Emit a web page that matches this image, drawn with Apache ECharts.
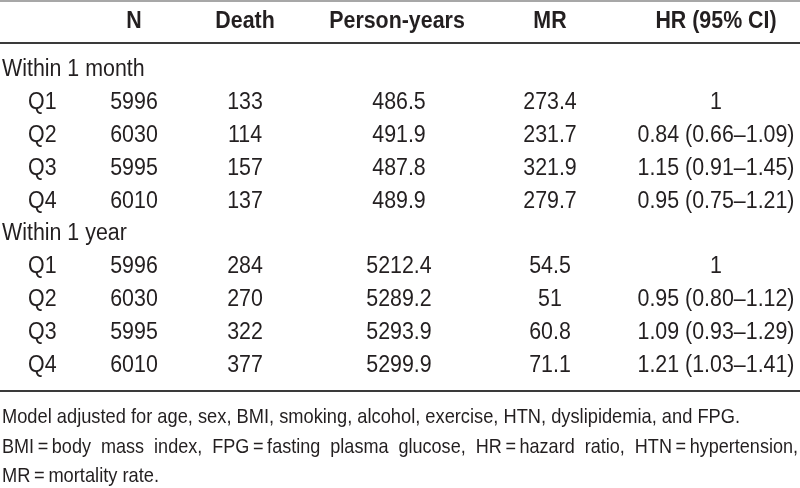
<!DOCTYPE html>
<html><head><meta charset="utf-8">
<script src="https://cdn.jsdelivr.net/npm/echarts@6/dist/echarts.min.js"></script>
<style>html,body{margin:0;padding:0;background:#fff}#c{width:800px;height:488px}</style>
</head><body><div id="c"></div>
<script>
// ---- data ----
const columns = ['N', 'Death', 'Person-years', 'MR', 'HR (95% CI)'];
const groups = ['Within 1 month', 'Within 1 year'];
const quartiles = ['Q1', 'Q2', 'Q3', 'Q4'];
const nMonth = ['5996', '6030', '5995', '6010'];
const deathMonth = ['133', '114', '157', '137'];
const pyMonth = ['486.5', '491.9', '487.8', '489.9'];
const mrMonth = ['273.4', '231.7', '321.9', '279.7'];
const hrMonth = ['1', '0.84 (0.66–1.09)', '1.15 (0.91–1.45)', '0.95 (0.75–1.21)'];
const nYear = ['5996', '6030', '5995', '6010'];
const deathYear = ['284', '270', '322', '377'];
const pyYear = ['5212.4', '5289.2', '5293.9', '5299.9'];
const mrYear = ['54.5', '51', '60.8', '71.1'];
const hrYear = ['1', '0.95 (0.80–1.12)', '1.09 (0.93–1.29)', '1.21 (1.03–1.41)'];
const footnotes = [
  'Model adjusted for age, sex, BMI, smoking, alcohol, exercise, HTN, dyslipidemia, and FPG.',
  'BMI\u2009=\u2009body  mass  index,  FPG\u2009=\u2009fasting  plasma  glucose,  HR\u2009=\u2009hazard  ratio,  HTN\u2009=\u2009hypertension,',
  'MR\u2009=\u2009mortality rate.'
];

// ---- layout ----
const FONT_FAMILY = '"Liberation Sans", Arial, sans-serif';
const FS = 23;
const SCALE_X = 0.93;
const FOOT_FS = 21;
const footTargetW = [738, 796, null];
const ROW = 32.8;           // px per row unit
const colX = [134, 245, 399, 550, 716];
const headerX = [134, 245, 397, 550, 716];
const groupX = 2, qX = 28, footX = 2;
const headerRow = -1.46;
const footRows = [10.6, 11.49, 12.38];
const ruleRows = [-2.12, -0.82, 9.79];
const INK = '#231f20';

const measureCtx = document.createElement('canvas').getContext('2d');
function textW(t, font) { measureCtx.font = font; return measureCtx.measureText(t).width; }

const items = [];
function add(x, y, text, opts) {
  items.push(Object.assign({ value: [x, y], text: text, align: 'center', bold: false, fs: FS, sx: SCALE_X }, opts || {}));
}
columns.forEach((c, j) => add(headerX[j], headerRow, c, { bold: true }));
const blocks = [
  [nMonth, deathMonth, pyMonth, mrMonth, hrMonth],
  [nYear, deathYear, pyYear, mrYear, hrYear]
];
let r = 0;
groups.forEach((g, gi) => {
  add(groupX, r, g, { align: 'left' });
  r++;
  quartiles.forEach((q, qi) => {
    add(qX, r, q, { align: 'left' });
    blocks[gi].forEach((col, j) => add(colX[j], r, col[qi]));
    r++;
  });
});
let footScale = SCALE_X;
footnotes.forEach((f, i) => {
  const font = FOOT_FS + 'px ' + FONT_FAMILY;
  let sx = footScale;
  if (footTargetW[i]) { sx = footTargetW[i] / textW(f, font); if (i === 0) footScale = sx; }
  add(footX, footRows[i], f, { align: 'left', fs: FOOT_FS, sx: sx });
});

const chart = echarts.init(document.getElementById('c'), null, { renderer: 'canvas' });
chart.setOption({
  animation: false,
  backgroundColor: '#ffffff',
  grid: { left: 0, right: 0, top: 0, bottom: 0 },
  xAxis: { type: 'value', min: 0, max: 800, show: false },
  yAxis: { type: 'value', inverse: true, min: -70 / ROW, max: (488 - 70) / ROW, show: false },
  series: [{
    type: 'custom',
    silent: true,
    data: items.map(it => it.value),
    renderItem: function (params, api) {
      const it = items[params.dataIndex];
      const pt = api.coord([api.value(0), api.value(1)]);
      return {
        type: 'text',
        x: pt[0], y: pt[1],
        scaleX: it.sx, scaleY: 1,
        style: {
          text: it.text,
          fill: INK,
          font: (it.bold ? 'bold ' : '') + it.fs + 'px ' + FONT_FAMILY,
          align: it.align,
          verticalAlign: 'middle'
        }
      };
    },
    markLine: {
      silent: true,
      symbol: 'none',
      label: { show: false },
      data: [
        { yAxis: ruleRows[0], lineStyle: { color: '#8a8a8a', width: 1.5, type: 'solid' } },
        { yAxis: ruleRows[1], lineStyle: { color: '#3a3a3a', width: 2, type: 'solid' } },
        { yAxis: ruleRows[2], lineStyle: { color: '#3a3a3a', width: 2, type: 'solid' } }
      ]
    }
  }]
});
</script></body></html>
